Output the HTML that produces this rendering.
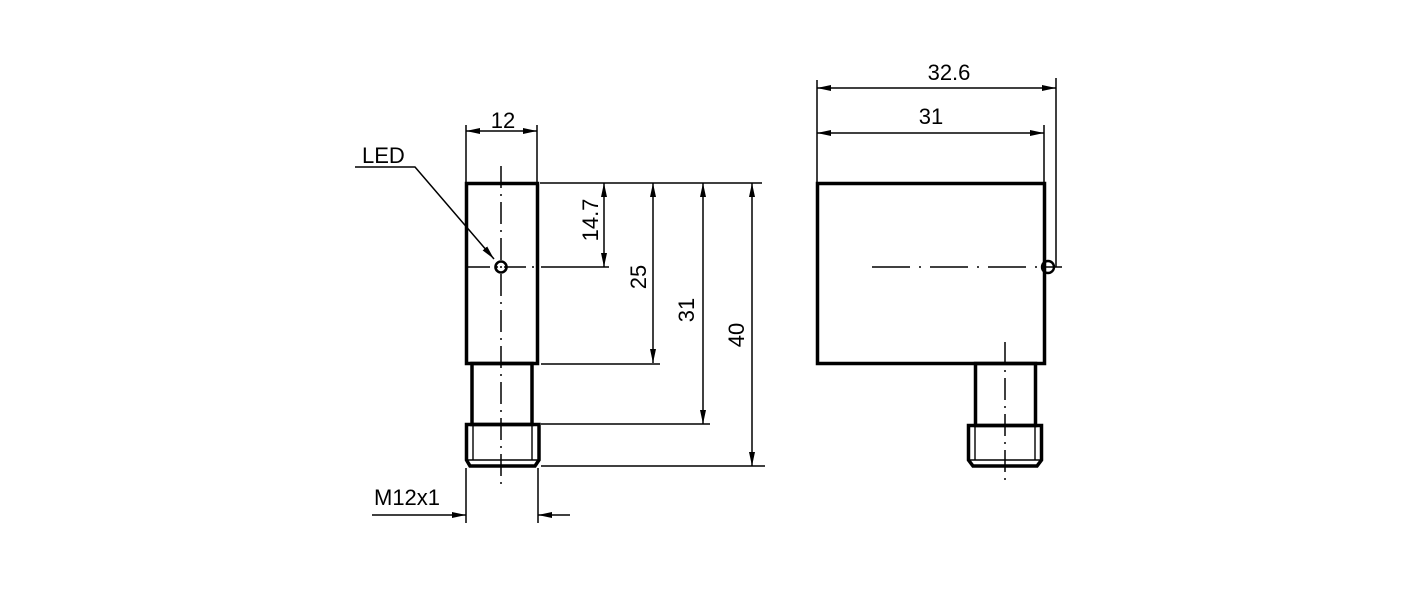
<!DOCTYPE html>
<html><head><meta charset="utf-8"><style>body{margin:0;background:#fff}svg{display:block}text{font-family:"Liberation Sans",sans-serif;font-size:22px;fill:#000}</style></head>
<body>
<svg width="1417" height="591" viewBox="0 0 1417 591" xmlns="http://www.w3.org/2000/svg">
<defs>
<marker id="a" viewBox="0 0 14 6" refX="14" refY="3" markerWidth="14" markerHeight="6" orient="auto-start-reverse" markerUnits="userSpaceOnUse"><path d="M0,0 L14,3 L0,6 z" fill="#000"/></marker>
</defs>
<g stroke="#000" fill="none">
<rect x="466.5" y="183.5" width="71" height="180" stroke-width="3.5"/>
<rect x="472" y="363.5" width="60" height="61" stroke-width="3.5"/>
<path d="M466.5,424.5 H539 V460 L535,466 H470 L466.5,460 Z" stroke-width="3.5"/>
<path d="M473,426 V460 M532,426 V460 M468,460 H538" stroke-width="1.4"/>
<path d="M501,166 V485" stroke-width="1.5" stroke-dasharray="22,6,2,6"/>
<path d="M468,267 H537" stroke-width="1.5" stroke-dasharray="22,6,2,6"/>
<circle cx="501" cy="267" r="5.5" stroke-width="2.6"/>
<path d="M466,125 V183 M537,125 V183" stroke-width="1.5"/>
<path d="M466,131 H537" stroke-width="1.5" marker-start="url(#a)" marker-end="url(#a)"/>
<path d="M355,167 H415 L494,259" stroke-width="1.5" marker-end="url(#a)"/>
<path d="M540,183 H762 M541,267 H609 M541,364 H660 M541,424 H710 M541,466 H765" stroke-width="1.5"/>
<path d="M604,183 V267" stroke-width="1.5" marker-start="url(#a)" marker-end="url(#a)"/>
<path d="M653,183 V363" stroke-width="1.5" marker-start="url(#a)" marker-end="url(#a)"/>
<path d="M703,183 V424" stroke-width="1.5" marker-start="url(#a)" marker-end="url(#a)"/>
<path d="M752,183 V466" stroke-width="1.5" marker-start="url(#a)" marker-end="url(#a)"/>
<path d="M466,468 V523 M538,468 V523" stroke-width="1.5"/>
<path d="M372,515 H466" stroke-width="1.5" marker-end="url(#a)"/>
<path d="M570,515 H538" stroke-width="1.5" marker-end="url(#a)"/>
<rect x="817.5" y="183.5" width="227" height="180" stroke-width="3.5"/>
<rect x="975.5" y="363.5" width="60" height="62" stroke-width="3.5"/>
<path d="M968.5,425.5 H1041.5 V460 L1037,466 H973 L968.5,460 Z" stroke-width="3.5"/>
<path d="M975,427 V460 M1035,427 V460 M970,460 H1040" stroke-width="1.4"/>
<path d="M1005,342 V485" stroke-width="1.5" stroke-dasharray="22,6,2,6"/>
<path d="M872,267 H1062" stroke-width="1.5" stroke-dasharray="38,9,2,9"/>
<circle cx="1048" cy="267" r="6" stroke-width="2.4"/>
<path d="M817,80 V183 M1056,78 V267 M1044,125 V183" stroke-width="1.5"/>
<path d="M817,88 H1056" stroke-width="1.5" marker-start="url(#a)" marker-end="url(#a)"/>
<path d="M817,133 H1044" stroke-width="1.5" marker-start="url(#a)" marker-end="url(#a)"/>
</g>
<text x="503" y="128" text-anchor="middle">12</text>
<text x="362" y="163">LED</text>
<text x="374" y="505">M12x1</text>
<text x="949" y="80" text-anchor="middle">32.6</text>
<text x="931" y="124" text-anchor="middle">31</text>
<text transform="translate(598,220) rotate(-90)" text-anchor="middle">14.7</text>
<text transform="translate(646,277) rotate(-90)" text-anchor="middle">25</text>
<text transform="translate(694,310) rotate(-90)" text-anchor="middle">31</text>
<text transform="translate(744,335) rotate(-90)" text-anchor="middle">40</text>
</svg>
</body></html>
